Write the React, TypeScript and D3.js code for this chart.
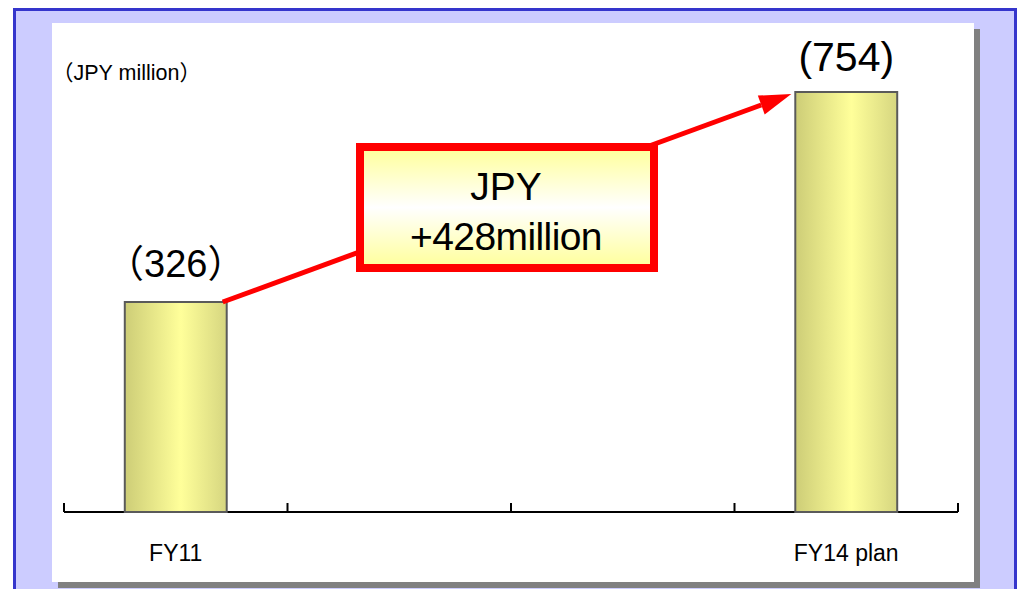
import React from "react";
import * as d3 from "d3";

// Fiscal-year slots along the x axis (two middle slots are unlabeled spacers)
const slotLabels = ["FY11", "", "", "FY14 plan"];
// Values in JPY million (null = no bar in that slot)
const slotValues: (number | null)[] = [326, null, null, 754];
const unitLabel = "JPY million";
const currencyLabel = "JPY";

const W = 1024;
const H = 589;
const LATIN = "'Liberation Sans', Arial, Helvetica, sans-serif";
const CJK = "'Noto Sans CJK JP', 'Noto Sans CJK SC', sans-serif";

export default function App() {
  const x = d3
    .scaleBand<number>()
    .domain(d3.range(slotLabels.length))
    .range([64, 958])
    .padding(0);
  const y = d3.scaleLinear().domain([-102, 754]).range([512, 92]);

  const bw = x.bandwidth();
  const barW = bw * 0.456;
  const barX = (i: number) => (x(i) as number) + (bw - barW) / 2;
  const baseY = y.range()[0];

  const bars = slotValues
    .map((v, i) => ({ v, i }))
    .filter((d) => d.v !== null) as { v: number; i: number }[];

  const first = bars[0];
  const last = bars[bars.length - 1];
  const delta = last.v - first.v;

  // Growth arrow from top-right corner of first bar toward top-left of last bar
  const x0 = barX(first.i) + barW - 4;
  const y0 = y(first.v);
  const x1 = barX(last.i) - 4;
  const y1 = y(last.v) + 2;
  const ang = Math.atan2(y1 - y0, x1 - x0);
  const headLen = 32;
  const headHalf = 10;
  const bx = x1 - headLen * Math.cos(ang);
  const by = y1 - headLen * Math.sin(ang);
  const px = -Math.sin(ang);
  const py = Math.cos(ang);
  const head = [
    [x1, y1],
    [bx + px * headHalf, by + py * headHalf],
    [bx - px * headHalf, by - py * headHalf],
  ];

  const tickXs = [...x.domain().map((i) => x(i) as number), x.range()[1]];

  return (
    <svg
      width={W}
      height={H}
      style={{ position: "absolute", left: 0, top: 0, display: "block" }}
    >
      <defs>
        <linearGradient id="barFill" x1="0" x2="1" y1="0" y2="0">
          <stop offset="0" stopColor="#CDCD77" />
          <stop offset="0.55" stopColor="#FFFF9A" />
          <stop offset="1" stopColor="#D6D680" />
        </linearGradient>
        <linearGradient id="boxFill" x1="0" x2="0" y1="0" y2="1">
          <stop offset="0" stopColor="#FFFF99" />
          <stop offset="0.5" stopColor="#FFFFFF" />
          <stop offset="1" stopColor="#FFFF99" />
        </linearGradient>
      </defs>

      <rect x={0} y={0} width={W} height={H} fill="#FFFFFF" />
      {/* outer lavender frame */}
      <rect
        x={14.5}
        y={9.5}
        width={1001}
        height={620}
        fill="#CCCCFF"
        stroke="#3535CC"
        strokeWidth={3}
      />
      {/* panel shadow and panel */}
      <rect x={58} y={29} width={922} height={559} fill="#808080" />
      <rect x={52} y={23} width={922} height={559} fill="#FFFFFF" />

      {/* unit label */}
      <text x={52} y={80} fontSize={21.5} fontFamily={LATIN} fill="#000">
        <tspan fontFamily={CJK}>（</tspan>
        {unitLabel}
        <tspan fontFamily={CJK}>）</tspan>
      </text>

      {/* axis baseline and ticks */}
      <line
        x1={x.range()[0]}
        x2={x.range()[1]}
        y1={baseY}
        y2={baseY}
        stroke="#000"
        strokeWidth={2}
      />
      {tickXs.map((tx, k) => (
        <line
          key={k}
          x1={tx}
          x2={tx}
          y1={baseY}
          y2={baseY - 9}
          stroke="#000"
          strokeWidth={2}
        />
      ))}

      {/* bars */}
      {bars.map((d) => (
        <rect
          key={d.i}
          x={barX(d.i)}
          y={y(d.v)}
          width={barW}
          height={baseY - y(d.v)}
          fill="url(#barFill)"
          stroke="#5A5A5A"
          strokeWidth={2}
        />
      ))}

      {/* value labels */}
      <text
        x={barX(first.i) + barW / 2}
        y={y(first.v) - 25}
        fontSize={38}
        fontFamily={LATIN}
        textAnchor="middle"
        fill="#000"
      >
        <tspan fontFamily={CJK}>（</tspan>
        {first.v}
        <tspan fontFamily={CJK}>）</tspan>
      </text>
      <text
        x={barX(last.i) + barW / 2}
        y={y(last.v) - 21}
        fontSize={41}
        fontFamily={LATIN}
        textAnchor="middle"
        fill="#000"
      >
        ({last.v})
      </text>

      {/* category labels */}
      {slotLabels.map((lab, i) =>
        lab ? (
          <text
            key={i}
            x={(x(i) as number) + bw / 2}
            y={561}
            fontSize={23}
            fontFamily={LATIN}
            textAnchor="middle"
            fill="#000"
          >
            {lab}
          </text>
        ) : null
      )}

      {/* growth arrow */}
      <line x1={x0} y1={y0} x2={bx} y2={by} stroke="#FF0000" strokeWidth={5} />
      <polygon points={head.map((p) => p.join(",")).join(" ")} fill="#FF0000" />

      {/* difference callout */}
      <rect
        x={360}
        y={147}
        width={294}
        height={121}
        fill="url(#boxFill)"
        stroke="#FF0000"
        strokeWidth={8}
      />
      <text
        x={506}
        y={200}
        fontSize={39}
        fontFamily={LATIN}
        textAnchor="middle"
        fill="#000"
      >
        {currencyLabel}
      </text>
      <text
        x={506}
        y={250}
        fontSize={39}
        fontFamily={LATIN}
        textAnchor="middle"
        letterSpacing={-0.6}
        fill="#000"
      >
        +{delta}million
      </text>
    </svg>
  );
}
